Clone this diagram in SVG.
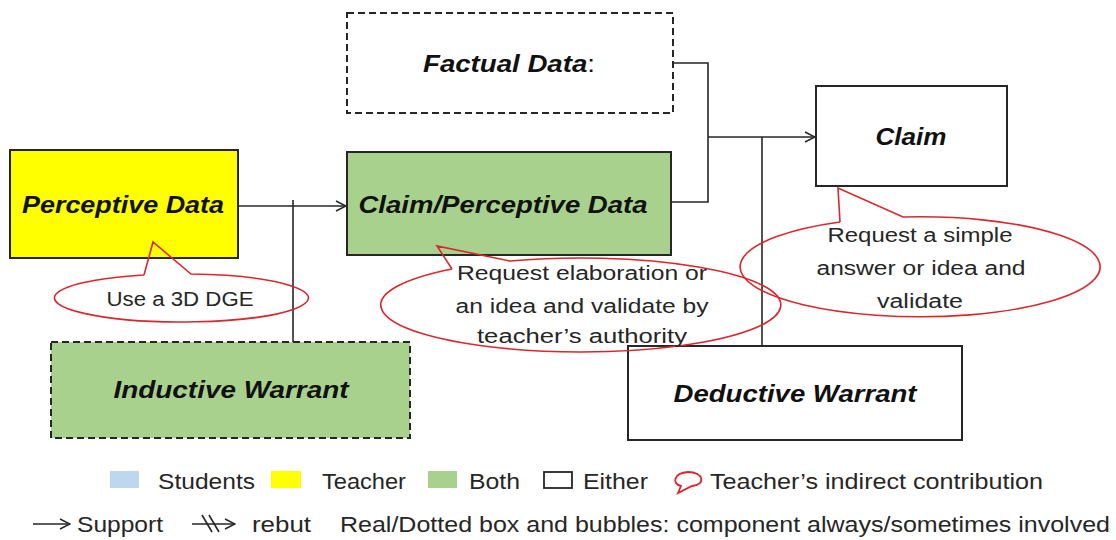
<svg xmlns="http://www.w3.org/2000/svg" width="1116" height="540" viewBox="0 0 1116 540">
<defs>
<marker id="open" viewBox="0 0 12 12" refX="11" refY="6" markerWidth="12" markerHeight="12" markerUnits="userSpaceOnUse" orient="auto">
<path d="M1,1 L11,6 L1,11" fill="none" stroke="#262626" stroke-width="1.5"/>
</marker>
</defs>
<style>
.box{stroke:#262626;stroke-width:2}
.dash{stroke-dasharray:7 4}
.lbl{font-family:"Liberation Sans",Arial,sans-serif;font-weight:bold;font-style:italic;font-size:24px;fill:#111;text-anchor:middle}
.bt{font-family:"Liberation Sans",Arial,sans-serif;font-size:20px;fill:#262626;text-anchor:middle}
.bub{fill:none;stroke:#D9272E;stroke-width:1.6}
.con{fill:none;stroke:#262626;stroke-width:1.6}
.lg{font-family:"Liberation Sans",Arial,sans-serif;font-size:22px;fill:#262626}
</style>
<rect width="1116" height="540" fill="#fff"/>

<g id="factual-data">
<rect class="box dash" x="347" y="13" width="326" height="100" fill="#fff"/>
<text class="lbl" x="509" y="72" textLength="172" lengthAdjust="spacingAndGlyphs">Factual Data<tspan font-weight="normal" font-style="normal">:</tspan></text>
</g>

<g id="perceptive-data">
<rect class="box" x="10" y="150" width="228" height="108" fill="#FFFF00"/>
<text class="lbl" x="123" y="213" textLength="202" lengthAdjust="spacingAndGlyphs">Perceptive Data</text>
</g>

<g id="claim-perceptive-data">
<rect class="box" x="347" y="152" width="324" height="103" fill="#A9D18E"/>
<text class="lbl" x="503" y="213" textLength="289" lengthAdjust="spacingAndGlyphs">Claim/Perceptive Data</text>
</g>

<g id="claim">
<rect class="box" x="816" y="86" width="191" height="100" fill="#fff"/>
<text class="lbl" x="911" y="145" textLength="71" lengthAdjust="spacingAndGlyphs">Claim</text>
</g>

<g id="inductive-warrant">
<rect class="box dash" x="51" y="342" width="359" height="96" fill="#A9D18E"/>
<text class="lbl" x="231" y="398" textLength="235" lengthAdjust="spacingAndGlyphs">Inductive Warrant</text>
</g>

<g id="deductive-warrant">
<rect class="box" x="628" y="346" width="334" height="94" fill="#fff"/>
<text class="lbl" x="795" y="402" textLength="243" lengthAdjust="spacingAndGlyphs">Deductive Warrant</text>
</g>

<g id="connectors">
<line class="con" x1="238" y1="206" x2="346" y2="206" marker-end="url(#open)"/>
<line class="con" x1="293" y1="200" x2="293" y2="342"/>
<polyline class="con" points="673,63 708,63 708,202 671,202"/>
<line class="con" x1="708" y1="137" x2="815" y2="137" marker-end="url(#open)"/>
<line class="con" x1="762" y1="137" x2="762" y2="346"/>
</g>

<g id="bubble-dge">
<path class="bub" d="M144,275 L153,242 L191,274 A127,24 0 1 1 144,275"/>
<text class="bt" x="180" y="306" textLength="147" lengthAdjust="spacingAndGlyphs">Use a 3D DGE</text>
</g>

<g id="bubble-elaboration">
<path class="bub" d="M452,269 L437,246 L510,261 A200,47 0 1 1 452,269"/>
<text class="bt" x="582" y="280" textLength="250" lengthAdjust="spacingAndGlyphs">Request elaboration or</text>
<text class="bt" x="582" y="313" textLength="253" lengthAdjust="spacingAndGlyphs">an idea and validate by</text>
<text class="bt" x="582" y="343" textLength="210" lengthAdjust="spacingAndGlyphs">teacher’s authority</text>
</g>

<g id="bubble-simple">
<path class="bub" d="M840,222 L838,188 L903,217 A180,50 0 1 1 840,222"/>
<text class="bt" x="920" y="242" textLength="185" lengthAdjust="spacingAndGlyphs">Request a simple</text>
<text class="bt" x="921" y="275" textLength="209" lengthAdjust="spacingAndGlyphs">answer or idea and</text>
<text class="bt" x="920" y="308" textLength="86" lengthAdjust="spacingAndGlyphs">validate</text>
</g>

<g id="legend">
<rect x="110" y="471" width="29" height="17" fill="#BDD7EE"/>
<text class="lg" x="158" y="489" textLength="97" lengthAdjust="spacingAndGlyphs">Students</text>
<rect x="271" y="471" width="30" height="17" fill="#FFFF00"/>
<text class="lg" x="322" y="489" textLength="84" lengthAdjust="spacingAndGlyphs">Teacher</text>
<rect x="428" y="471" width="29" height="17" fill="#A9D18E"/>
<text class="lg" x="469" y="489" textLength="51" lengthAdjust="spacingAndGlyphs">Both</text>
<rect x="544" y="472" width="28" height="16" fill="#fff" stroke="#262626" stroke-width="1.8"/>
<text class="lg" x="583" y="489" textLength="65" lengthAdjust="spacingAndGlyphs">Either</text>
<path d="M681,486 C672,484 673,473 688,472 C704,472 706,485 692,486 L678,493 Z" fill="none" stroke="#D9272E" stroke-width="1.8"/>
<text class="lg" x="710" y="489" textLength="333" lengthAdjust="spacingAndGlyphs">Teacher’s indirect contribution</text>

<line class="con" x1="33" y1="524" x2="70" y2="524" marker-end="url(#open)"/>
<text class="lg" x="77" y="532" textLength="86" lengthAdjust="spacingAndGlyphs">Support</text>
<line class="con" x1="192" y1="524" x2="235" y2="524" marker-end="url(#open)"/>
<line class="con" x1="202" y1="515" x2="212" y2="532"/>
<line class="con" x1="209" y1="515" x2="219" y2="532"/>
<text class="lg" x="252" y="532" textLength="59" lengthAdjust="spacingAndGlyphs">rebut</text>
<text class="lg" x="340" y="532" textLength="770" lengthAdjust="spacingAndGlyphs">Real/Dotted box and bubbles: component always/sometimes involved</text>
</g>
</svg>
